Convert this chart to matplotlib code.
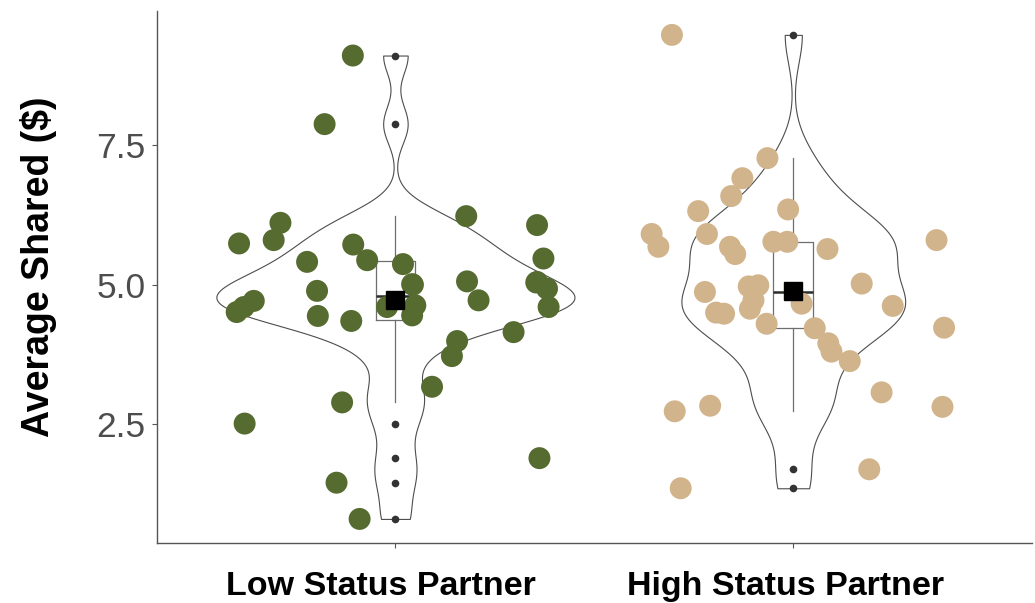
import numpy as np
import matplotlib
matplotlib.use("Agg")
import matplotlib.pyplot as plt
from matplotlib.transforms import ScaledTranslation

plt.rcParams['font.family'] = ['Liberation Sans', 'DejaVu Sans']

# ---- data -------------------------------------------------------------
categories = ["Low Status Partner", "High Status Partner"]
point_colors = ["#556B2F", "#D2B48C"]

# jittered x position and value for each participant
low_x = [0.893, 0.822, 0.711, 0.694, 0.607, 0.778, 0.894, 0.929, 0.803, 0.644,
         0.619, 0.601, 0.805, 0.889, 0.979, 1.019, 1.042, 1.050, 1.042, 1.180,
         1.209, 1.178, 1.356, 1.372, 1.356, 1.381, 1.385, 1.297, 1.155, 1.142,
         1.092, 0.866, 0.621, 1.362, 0.852, 0.910, 1.044, 1.354]
low_y = [9.11, 7.88, 6.11, 5.80, 5.74, 5.41, 5.72, 5.44, 4.89, 4.71,
         4.60, 4.51, 4.44, 4.35, 4.60, 5.37, 5.01, 4.63, 4.45, 5.06,
         4.72, 6.23, 6.07, 5.47, 5.05, 4.93, 4.60, 4.15, 3.99, 3.72,
         3.17, 2.89, 2.51, 1.89, 1.45, 0.80, 5.00, 5.04]

high_x = [1.695, 1.935, 1.872, 1.844, 1.761, 1.987, 1.644, 1.661, 1.783, 1.841,
          1.854, 1.950, 1.985, 2.086, 2.360, 2.172, 1.778, 1.888, 1.912, 1.900,
          1.891, 1.806, 1.826, 1.933, 2.021, 2.054, 2.088, 2.096, 2.142, 2.250,
          2.379, 2.222, 2.375, 1.791, 1.702, 2.191, 1.717]
high_y = [9.48, 7.27, 6.91, 6.59, 6.32, 6.35, 5.91, 5.68, 5.91, 5.68,
          5.55, 5.77, 5.77, 5.64, 5.80, 5.02, 4.87, 4.97, 4.99, 4.72,
          4.57, 4.50, 4.48, 4.30, 4.66, 4.22, 3.95, 3.80, 3.63, 4.62,
          4.23, 3.07, 2.81, 2.83, 2.73, 1.69, 1.35]

y_ticks = [2.5, 5.0, 7.5]
y_tick_labels = ["2.5", "5.0", "7.5"]

groups_x = [np.array(low_x), np.array(high_x)]
groups_y = [np.array(low_y), np.array(high_y)]
positions = [1, 2]


def bw_nrd0(v):
    sd = np.std(v, ddof=1)
    q75, q25 = np.percentile(v, [75, 25])
    return 0.9 * min(sd, (q75 - q25) / 1.34) * len(v) ** -0.2


def kde(v, n=512):
    grid = np.linspace(v.min(), v.max(), n)
    bw = bw_nrd0(v)
    z = (grid[:, None] - v[None, :]) / bw
    dens = np.exp(-0.5 * z ** 2).sum(axis=1) / (len(v) * bw * np.sqrt(2 * np.pi))
    return grid, dens


# ---- figure -----------------------------------------------------------
W, H = 1035, 603
fig = plt.figure(figsize=(W / 100, H / 100), dpi=100)
ax = fig.add_axes([156.7 / W, 1 - 543.3 / H, (1032 - 156.7) / W, (543.3 - 10.7) / H])

# violins, scaled so that all have equal area (widest = 0.9)
dens_list = [kde(v) for v in groups_y]
dmax = max(d.max() for _, d in dens_list)
for pos, (grid, dens) in zip(positions, dens_list):
    half = dens / dmax * 0.45
    ax.fill_betweenx(grid, pos - half, pos + half, facecolor="white",
                     edgecolor="#4d4d4d", linewidth=0.8, zorder=1)

# box plots
ax.boxplot(groups_y, positions=positions, widths=0.1, whis=1.5,
           showcaps=False, manage_ticks=False,
           boxprops=dict(color="#6e6e6e", linewidth=0.9),
           whiskerprops=dict(color="#6e6e6e", linewidth=0.9),
           medianprops=dict(color="#2b2b2b", linewidth=1.8),
           flierprops=dict(marker="o", markersize=5.5, markerfacecolor="#333333",
                           markeredgecolor="none"),
           zorder=2)

# participants
for gx, gy, col in zip(groups_x, groups_y, point_colors):
    ax.scatter(gx, gy, s=250, color=col, edgecolors="none", zorder=3)

# group means
for pos, gy in zip(positions, groups_y):
    ax.plot(pos, np.mean(gy), marker="s", markersize=12.5, color="black",
            linestyle="none", zorder=4)

# axes styling
ax.set_xlim(0.4, 2.6)
ax.set_ylim(0.363, 9.914)
ax.set_xticks(positions)
ax.set_xticklabels(categories, fontsize=24.5, fontweight="bold", color="black")
ax.set_yticks(y_ticks)
ax.set_yticklabels(y_tick_labels, fontsize=25.5, color="#4D4D4D")
ax.tick_params(axis="both", length=3.6, width=0.8, color="#555555")
ax.tick_params(axis="x", pad=16)
ax.tick_params(axis="y", pad=4.5)
for side in ("top", "right"):
    ax.spines[side].set_visible(False)
for side in ("left", "bottom"):
    ax.spines[side].set_color("#555555")
    ax.spines[side].set_linewidth(1.0)

# nudge the category labels slightly to the left
for lbl, dx in zip(ax.get_xticklabels(), [-14, -8]):
    lbl.set_transform(lbl.get_transform() + ScaledTranslation(dx / 100, 0, fig.dpi_scale_trans))

fig.text(39 / W, 1 - 266.5 / H, "Average Shared ($)", rotation=90,
         ha="center", va="center", fontsize=27, fontweight="bold", color="black")

fig.savefig("out.png", dpi=100)
